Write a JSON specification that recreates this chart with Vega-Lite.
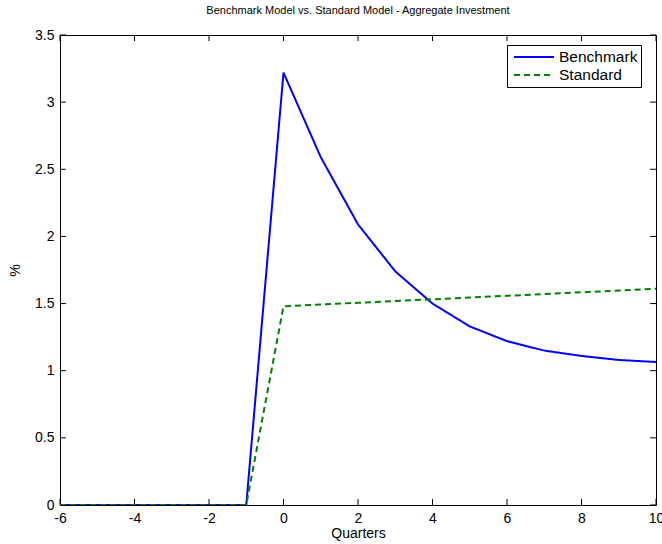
{
  "$schema": "https://vega.github.io/schema/vega-lite/v6.json",
  "width": 596,
  "height": 470,
  "autosize": "none",
  "padding": {"left": 60, "top": 35, "right": 6, "bottom": 39},
  "background": "white",
  "title": {
    "text": "Benchmark Model vs. Standard Model - Aggregate Investment",
    "font": "Liberation Sans",
    "fontSize": 11,
    "fontWeight": "normal",
    "color": "black",
    "offset": 12
  },
  "config": {
    "view": {"stroke": "black", "strokeWidth": 1},
    "axis": {
      "labelFont": "Liberation Sans",
      "titleFont": "Liberation Sans",
      "labelFontSize": 14,
      "titleFontSize": 14,
      "titleFontWeight": "normal",
      "labelColor": "black",
      "titleColor": "black",
      "domain": false,
      "ticks": false,
      "grid": false,
      "labelOverlap": false,
      "labelBound": false,
      "labelFlush": false
    }
  },
  "datasets": {
    "curves": [
      {"q": -6, "series": "Benchmark", "v": 0},
      {"q": -5, "series": "Benchmark", "v": 0},
      {"q": -4, "series": "Benchmark", "v": 0},
      {"q": -3, "series": "Benchmark", "v": 0},
      {"q": -2, "series": "Benchmark", "v": 0},
      {"q": -1, "series": "Benchmark", "v": 0},
      {"q": 0, "series": "Benchmark", "v": 3.22},
      {"q": 1, "series": "Benchmark", "v": 2.59},
      {"q": 2, "series": "Benchmark", "v": 2.09},
      {"q": 3, "series": "Benchmark", "v": 1.74},
      {"q": 4, "series": "Benchmark", "v": 1.5},
      {"q": 5, "series": "Benchmark", "v": 1.33},
      {"q": 6, "series": "Benchmark", "v": 1.22},
      {"q": 7, "series": "Benchmark", "v": 1.15},
      {"q": 8, "series": "Benchmark", "v": 1.11},
      {"q": 9, "series": "Benchmark", "v": 1.08},
      {"q": 10, "series": "Benchmark", "v": 1.065},
      {"q": -6, "series": "Standard", "v": 0},
      {"q": -5, "series": "Standard", "v": 0},
      {"q": -4, "series": "Standard", "v": 0},
      {"q": -3, "series": "Standard", "v": 0},
      {"q": -2, "series": "Standard", "v": 0},
      {"q": -1, "series": "Standard", "v": 0},
      {"q": 0, "series": "Standard", "v": 1.48},
      {"q": 1, "series": "Standard", "v": 1.493},
      {"q": 2, "series": "Standard", "v": 1.506},
      {"q": 3, "series": "Standard", "v": 1.519},
      {"q": 4, "series": "Standard", "v": 1.532},
      {"q": 5, "series": "Standard", "v": 1.545},
      {"q": 6, "series": "Standard", "v": 1.558},
      {"q": 7, "series": "Standard", "v": 1.571},
      {"q": 8, "series": "Standard", "v": 1.584},
      {"q": 9, "series": "Standard", "v": 1.597},
      {"q": 10, "series": "Standard", "v": 1.61}
    ],
    "xticks": [
      {"t": -6}, {"t": -4}, {"t": -2}, {"t": 0}, {"t": 2}, {"t": 4}, {"t": 6}, {"t": 8}, {"t": 10}
    ],
    "yticks": [
      {"t": 0}, {"t": 0.5}, {"t": 1}, {"t": 1.5}, {"t": 2}, {"t": 2.5}, {"t": 3}, {"t": 3.5}
    ]
  },
  "layer": [
    {
      "data": {"name": "xticks"},
      "mark": {"type": "rule", "color": "black", "strokeWidth": 1},
      "encoding": {
        "x": {"field": "t", "type": "quantitative", "title": "Quarters"},
        "y": {"datum": 0, "type": "quantitative", "title": "%"},
        "y2": {"datum": 0.045}
      }
    },
    {
      "data": {"name": "xticks"},
      "mark": {"type": "rule", "color": "black", "strokeWidth": 1},
      "encoding": {
        "x": {"field": "t", "type": "quantitative", "title": "Quarters"},
        "y": {"datum": 3.5, "type": "quantitative", "title": "%"},
        "y2": {"datum": 3.455}
      }
    },
    {
      "data": {"name": "yticks"},
      "mark": {"type": "rule", "color": "black", "strokeWidth": 1},
      "encoding": {
        "y": {"field": "t", "type": "quantitative", "title": "%"},
        "x": {"datum": -6, "type": "quantitative", "title": "Quarters"},
        "x2": {"datum": -5.84}
      }
    },
    {
      "data": {"name": "yticks"},
      "mark": {"type": "rule", "color": "black", "strokeWidth": 1},
      "encoding": {
        "y": {"field": "t", "type": "quantitative", "title": "%"},
        "x": {"datum": 10, "type": "quantitative", "title": "Quarters"},
        "x2": {"datum": 9.84}
      }
    },
    {
      "data": {"name": "curves"},
      "mark": {"type": "line", "strokeWidth": 2, "clip": true},
      "encoding": {
        "x": {
          "field": "q",
          "type": "quantitative",
          "title": "Quarters",
          "scale": {"domain": [-6, 10], "nice": false, "zero": false},
          "axis": {
            "values": [-6, -4, -2, 0, 2, 4, 6, 8, 10],
            "labelExpr": "'' + datum.value",
            "labelPadding": 6,
            "titlePadding": 1
          }
        },
        "y": {
          "field": "v",
          "type": "quantitative",
          "title": "%",
          "scale": {"domain": [0, 3.5], "nice": false},
          "axis": {
            "values": [0, 0.5, 1, 1.5, 2, 2.5, 3, 3.5],
            "labelExpr": "'' + datum.value",
            "labelPadding": 6,
            "titlePadding": 12
          }
        },
        "color": {
          "field": "series",
          "type": "nominal",
          "scale": {"domain": ["Benchmark", "Standard"], "range": ["#0000ff", "#008000"]},
          "legend": {
            "title": null,
            "orient": "none",
            "legendX": 447,
            "legendY": 10,
            "direction": "vertical",
            "symbolType": "stroke",
            "symbolSize": 1600,
            "symbolStrokeWidth": 2,
            "symbolOffset": 3,
            "strokeColor": "black",
            "fillColor": "white",
            "padding": 3,
            "labelFont": "Liberation Sans",
            "labelFontSize": 15.5,
            "labelColor": "black",
            "rowPadding": 0,
            "clipHeight": 18,
            "labelOffset": 4
          }
        },
        "strokeDash": {
          "field": "series",
          "type": "nominal",
          "scale": {"domain": ["Benchmark", "Standard"], "range": [[1, 0], [6, 4]]},
          "legend": null
        }
      }
    }
  ]
}
